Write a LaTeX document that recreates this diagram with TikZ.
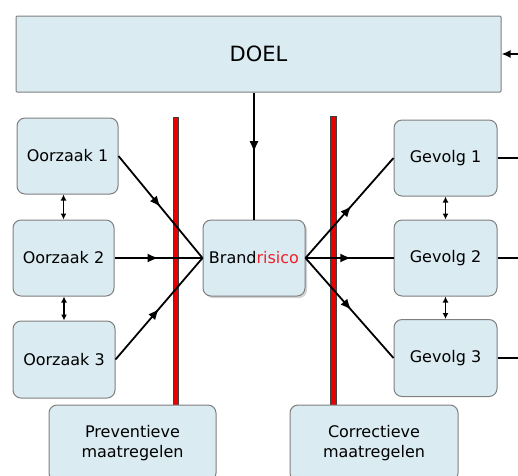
\documentclass[tikz,border=0pt]{standalone}
\usepackage{fontspec}
\setmainfont{DejaVu Sans}
\usetikzlibrary{arrows.meta,decorations.markings,shadows}
\definecolor{boxfill}{HTML}{DAEBF2}
\definecolor{boxline}{HTML}{7F7F7F}
\definecolor{barred}{HTML}{E80000}
\definecolor{riskred}{HTML}{F0202A}
\tikzset{
  blk/.style={draw=boxline, line width=1pt, fill=boxfill, rounded corners=8pt,
    minimum width=101pt, minimum height=76pt, align=center, inner sep=0pt,
    font=\fontsize{16}{19.5}\selectfont},
  midarrow/.style={decoration={markings, mark=at position #1 with {\arrow{Latex[length=11pt,width=9pt]}}},
    postaction={decorate}},
  conn/.style={line width=1.8pt, black},
  dbl/.style={line width=1.5pt, black, {Latex[length=6pt,width=6pt]}-{Latex[length=6pt,width=6pt]}},
  redbar/.style={draw=black!75, fill=barred, line width=0.6pt, minimum width=5.5pt, inner sep=0pt},
}
\begin{document}
\begin{tikzpicture}[x=1pt,y=-1pt]
\useasboundingbox (0,0) rectangle (518,475);
\clip (0,0) rectangle (518,475);
% red bars
\node[redbar, minimum height=288pt] (barL) at (176,261) {};
\node[redbar, minimum height=289pt] (barR) at (333.5,260.5) {};
% boxes
\node[blk, rounded corners=1pt, minimum width=485pt, font=\fontsize{21}{24}\selectfont] (doel) at (258.5,54) {DOEL};
\node[blk] (o1) at (67.5,156) {Oorzaak 1};
\node[blk] (o2) at (63.5,258) {Oorzaak 2};
\node[blk, minimum width=102pt, minimum height=77pt] (o3) at (64,359.5) {Oorzaak 3};
\node[blk, minimum width=102pt, drop shadow={opacity=0.35, shadow xshift=2pt, shadow yshift=-2pt}] (br) at (254,258) {Brand\textcolor{riskred}{risico}};
\node[blk, minimum width=103pt] (g1) at (445.5,158) {Gevolg 1};
\node[blk, minimum width=103pt] (g2) at (445.5,258) {Gevolg 2};
\node[blk, minimum width=103pt, minimum height=77pt] (g3) at (445.5,358) {Gevolg 3};
\node[blk, minimum width=167pt] (pm) at (132.5,443) {Preventieve\\maatregelen};
\node[blk, minimum width=168pt] (cm) at (374,443) {Correctieve\\maatregelen};
% edge coordinates
\coordinate (ein) at (518,54);
\coordinate (e1) at (518,158);
\coordinate (e2) at (518,258);
\coordinate (e3) at (518,358);
% connectors
\draw[conn, midarrow=0.47] (br.north |- doel.south) -- (br.north);
\draw[conn, midarrow=0.5] (o1.east) -- (br.west);
\draw[conn, midarrow=0.5] (o2.east) -- (br.west);
\draw[conn, midarrow=0.5] (o3.east) -- (br.west);
\draw[conn, midarrow=0.52] (br.east) -- (g1.west);
\draw[conn, midarrow=0.52] (br.east) -- (g2.west);
\draw[conn, midarrow=0.52] (br.east) -- (g3.west);
\draw[dbl] (o2.north |- o1.south) -- (o2.north);
\draw[dbl] (o3.north |- o2.south) -- (o3.north);
\draw[dbl] (g1.south) -- (g2.north);
\draw[dbl] (g2.south) -- (g3.north);
\draw[conn] (g1.east) -- (e1);
\draw[conn] (g2.east) -- (e2);
\draw[conn] (g3.east) -- (e3);
\draw[conn, -{Latex[length=9pt,width=8pt]}] (ein) -- (doel.east);
\end{tikzpicture}
\end{document}
